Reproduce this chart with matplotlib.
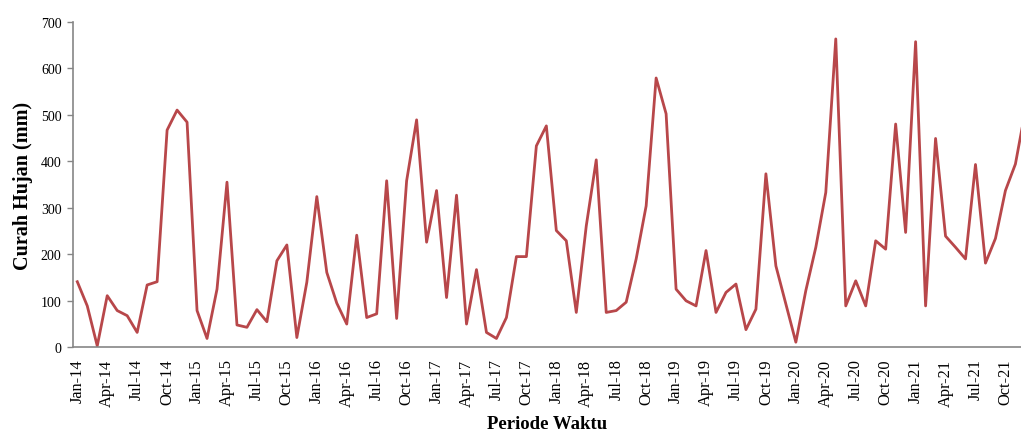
import matplotlib.pyplot as plt

# monthly rainfall Jan-2014 .. Dec-2021 (mm)
rain_2014 = [141, 89, 3, 111, 79, 68, 32, 134, 141, 467, 510, 484]
rain_2015 = [79, 19, 125, 355, 48, 43, 81, 55, 186, 220, 21, 140]
rain_2016 = [324, 161, 95, 50, 241, 64, 72, 358, 62, 358, 489, 226]
rain_2017 = [337, 107, 327, 50, 167, 32, 19, 64, 195, 195, 433, 476]
rain_2018 = [251, 229, 75, 261, 403, 75, 79, 97, 190, 304, 579, 502]
rain_2019 = [125, 100, 89, 208, 75, 118, 136, 38, 82, 373, 175, 93]
rain_2020 = [11, 122, 215, 333, 663, 89, 143, 89, 229, 211, 480, 247]
rain_2021 = [657, 89, 449, 239, 215, 190, 393, 181, 234, 337, 394, 510]

rainfall = (rain_2014 + rain_2015 + rain_2016 + rain_2017 +
            rain_2018 + rain_2019 + rain_2020 + rain_2021)

years = ['14', '15', '16', '17', '18', '19', '20', '21']
quarter_months = ['Jan', 'Apr', 'Jul', 'Oct']
tick_labels = [m + '-' + y for y in years for m in quarter_months]
tick_pos = list(range(0, len(rainfall), 3))

plt.rcParams['font.family'] = ['Liberation Serif', 'DejaVu Serif']

fig = plt.figure(figsize=(10.21, 4.35), dpi=100)
ax = fig.add_axes([0.0712, 0.1993, 0.9288, 0.7485])

ax.plot(range(len(rainfall)), rainfall, color='#B8474A', linewidth=2.0,
        solid_joinstyle='round')

ax.set_xlim(-0.46, 94.56)
ax.set_ylim(0, 700)
ax.set_yticks(range(0, 701, 100))
ax.set_xticks(tick_pos)
ax.set_xticklabels(tick_labels, rotation=90)

ax.spines['top'].set_visible(False)
ax.spines['right'].set_visible(False)
for s in ['left', 'bottom']:
    ax.spines[s].set_color('#868686')
    ax.spines[s].set_linewidth(1.2)

ax.tick_params(axis='y', direction='out', length=4, width=1.0, color='#868686',
               labelsize=10, pad=4)
ax.tick_params(axis='x', length=0, labelsize=11.8, pad=8)

ax.set_ylabel('Curah Hujan (mm)', fontsize=14.5, fontweight='bold', labelpad=6)
ax.set_xlabel('Periode Waktu', fontsize=13.5, fontweight='bold', labelpad=7)

fig.savefig('out.png', dpi=100)
